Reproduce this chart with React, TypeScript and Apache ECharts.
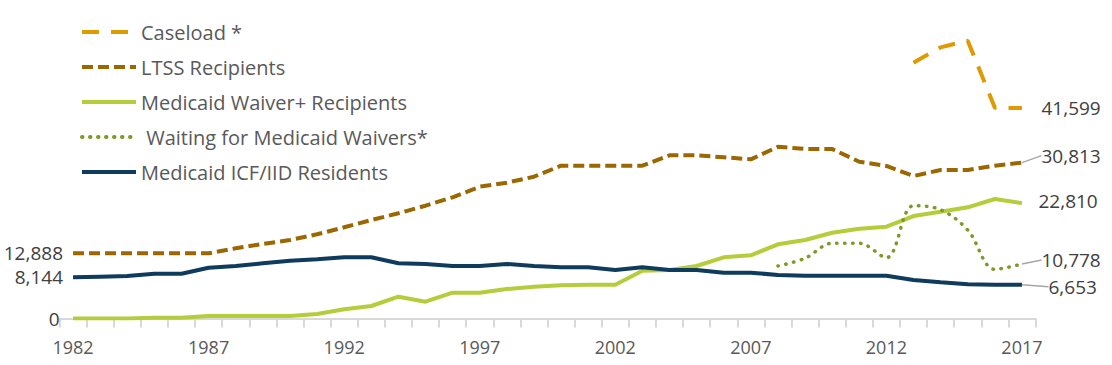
import React, { useEffect, useRef } from "react";
import * as echarts from "echarts";

const years = [
  "1982","1983","1984","1985","1986","1987","1988","1989","1990","1991",
  "1992","1993","1994","1995","1996","1997","1998","1999","2000","2001",
  "2002","2003","2004","2005","2006","2007","2008","2009","2010","2011",
  "2012","2013","2014","2015","2016","2017",
];

const caseload: (number | null)[] = [
  null,null,null,null,null,null,null,null,null,null,
  null,null,null,null,null,null,null,null,null,null,
  null,null,null,null,null,null,null,null,null,null,
  null,50570,53610,54920,41680,41599,
];

const ltss = [
  12888,12888,12888,12888,12888,12888,13880,14730,15520,16650,
  18030,19470,20800,22300,23960,26060,26850,28030,30210,30210,
  30210,30210,32260,32260,31870,31470,33960,33510,33510,31000,
  30150,28170,29360,29360,30210,30813,
];

const waiver = [
  0,0,0,160,160,500,500,500,500,890,
  1820,2470,4310,3320,5100,5100,5830,6290,6560,6680,
  6680,9450,9590,10380,12100,12490,14670,15520,16960,17750,
  18150,20260,21110,21980,23620,22810,
];

const waiting: (number | null)[] = [
  null,null,null,null,null,null,null,null,null,null,
  null,null,null,null,null,null,null,null,null,null,
  null,null,null,null,null,null,10380,11900,14870,14870,
  12030,22300,21500,17500,9720,10778,
];

const icf = [
  8144,8270,8400,8860,8860,10040,10380,10910,11430,11700,
  12100,12100,10910,10780,10380,10380,10780,10380,10120,10120,
  9590,10120,9590,9590,9060,9060,8600,8470,8470,8470,
  8470,7610,7150,6760,6660,6653,
];

const FONT = "Open Sans";
const LABEL_COLOR = "#404040";
const fmt = (v: number) => v.toLocaleString("en-US");

type Lbl = {
  idx: number;
  position: "left" | "right";
  distance: number;
  offset?: [number, number];
  line?: boolean;
};

function buildData(values: (number | null)[], labels: Lbl[]) {
  return values.map((v, i) => {
    const l = labels.find((x) => x.idx === i);
    if (!l || v === null) return v;
    return {
      value: v,
      symbol: "circle",
      symbolSize: 0.1,
      label: {
        show: true,
        position: l.position,
        distance: l.distance,
        offset: l.offset || [0, 0],
        formatter: () => fmt(v),
        color: LABEL_COLOR,
        fontSize: 19,
        fontFamily: FONT,
      },
      labelLine: l.line
        ? { show: true, lineStyle: { color: "#a6a6a6", width: 1.5 } }
        : { show: false },
    };
  });
}

export default function App() {
  const ref = useRef<HTMLDivElement>(null);
  useEffect(() => {
    if (!ref.current) return;
    const chart = echarts.init(ref.current, undefined, { renderer: "svg" });
    const last = years.length - 1;
    const layoutFor = (dx: number, dy: number) => (p: any) =>
      p.dataIndex === last ? { dx, dy } : {};
    chart.setOption({
      animation: false,
      textStyle: { fontFamily: FONT },
      grid: { left: 59.5, right: 76.5, top: 15, bottom: 46.5, containLabel: false },
      legend: {
        orient: "vertical",
        left: 80,
        top: 22,
        padding: 0,
        itemWidth: 54,
        itemHeight: 20,
        itemGap: 15,
        itemStyle: { color: "rgba(0,0,0,0)", borderWidth: 0, opacity: 0 },
        lineStyle: { width: 4 },
        textStyle: { color: "#595959", fontSize: 20, fontFamily: FONT },
        formatter: (name: string) =>
          name.startsWith("Waiting") ? "\u00a0" + name : name,
        data: [
          "Caseload *",
          "LTSS Recipients",
          "Medicaid Waiver+ Recipients",
          "Waiting for Medicaid Waivers*",
          "Medicaid ICF/IID Residents",
        ],
      },
      xAxis: {
        type: "category",
        data: years,
        boundaryGap: true,
        axisLine: { lineStyle: { color: "#d9d9d9", width: 2 } },
        axisTick: {
          show: true,
          interval: 0,
          length: 9,
          lineStyle: { color: "#d9d9d9", width: 2 },
        },
        axisLabel: {
          interval: 4,
          margin: 19,
          color: "#595959",
          fontSize: 18,
          fontFamily: FONT,
        },
        splitLine: { show: false },
      },
      yAxis: {
        type: "value",
        min: 0,
        max: 60000,
        interval: 60000,
        axisLine: { show: false },
        axisTick: { show: false },
        splitLine: { show: false },
        axisLabel: {
          margin: 0,
          color: LABEL_COLOR,
          fontSize: 19,
          fontFamily: FONT,
          formatter: (v: number) => (v === 0 ? "0" : ""),
        },
      },
      series: [
        {
          name: "Caseload *",
          type: "line",
          symbol: "none",
          connectNulls: false,
          data: buildData(caseload, [
            { idx: last, position: "right", distance: 19.5 },
          ]),
          lineStyle: { color: "#df9a00", width: 4, type: [17, 12] },
          itemStyle: { color: "#df9a00" },
        },
        {
          name: "LTSS Recipients",
          type: "line",
          symbol: "none",
          data: buildData(ltss, [
            { idx: 0, position: "left", distance: 10, offset: [0, -10] },
            { idx: last, position: "right", distance: 5, line: true },
          ]),
          labelLayout: layoutFor(14.5, -7),
          lineStyle: { color: "#9a6700", width: 4, type: [11, 5] },
          itemStyle: { color: "#9a6700" },
        },
        {
          name: "Medicaid Waiver+ Recipients",
          type: "line",
          symbol: "none",
          data: buildData(waiver, [
            { idx: last, position: "right", distance: 16.5, offset: [0, -2] },
          ]),
          lineStyle: { color: "#b5cc3b", width: 4 },
          itemStyle: { color: "#b5cc3b" },
        },
        {
          name: "Waiting for Medicaid Waivers*",
          type: "line",
          symbol: "none",
          smooth: 0.35,
          data: buildData(waiting, [
            { idx: last, position: "right", distance: 5, line: true },
          ]),
          labelLayout: layoutFor(14.5, -4),
          lineStyle: { color: "#7d9a26", width: 3.5, type: [0.5, 7.5], cap: "round" },
          itemStyle: { color: "#7d9a26" },
        },
        {
          name: "Medicaid ICF/IID Residents",
          type: "line",
          symbol: "none",
          data: buildData(icf, [
            { idx: 0, position: "left", distance: 10, offset: [0, -7] },
            { idx: last, position: "right", distance: 5, line: true },
          ]),
          labelLayout: layoutFor(21.5, 2),
          lineStyle: { color: "#0f3b5c", width: 4 },
          itemStyle: { color: "#0f3b5c" },
        },
      ],
    });
    return () => chart.dispose();
  }, []);
  return (
    <div
      ref={ref}
      style={{ position: "absolute", left: 0, top: 0, width: 1112, height: 365 }}
    />
  );
}
